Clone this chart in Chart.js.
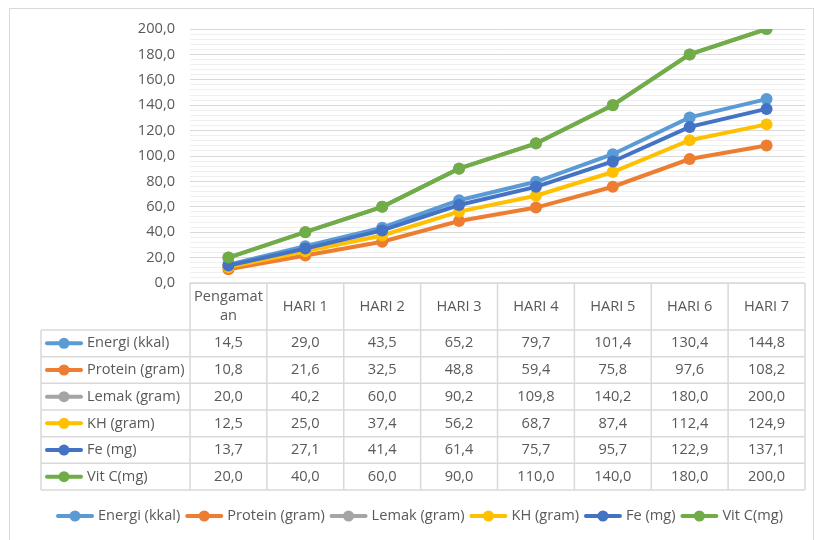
<!DOCTYPE html>
<html>
<head>
<meta charset="utf-8">
<script src="https://cdn.jsdelivr.net/npm/chart.js@4.4.1/dist/chart.umd.min.js"></script>
<style>
  html, body { margin: 0; padding: 0; background: #fff; }
  #wrap { width: 814px; height: 540px; position: relative; }
</style>
</head>
<body>
<div id="wrap"><canvas id="canvas"></canvas></div>
<script>
  // data
  const labels = ['Pengamatan', 'HARI 1', 'HARI 2', 'HARI 3', 'HARI 4', 'HARI 5', 'HARI 6', 'HARI 7'];
  const seriesNames = ['Energi (kkal)', 'Protein (gram)', 'Lemak (gram)', 'KH (gram)', 'Fe (mg)', 'Vit C(mg)'];
  const energi  = [14.5, 29.0, 43.5, 65.2, 79.7, 101.4, 130.4, 144.8];
  const protein = [10.8, 21.6, 32.5, 48.8, 59.4, 75.8, 97.6, 108.2];
  const lemak   = [20.0, 40.2, 60.0, 90.2, 109.8, 140.2, 180.0, 200.0];
  const kh      = [12.5, 25.0, 37.4, 56.2, 68.7, 87.4, 112.4, 124.9];
  const fe      = [13.7, 27.1, 41.4, 61.4, 75.7, 95.7, 122.9, 137.1];
  const vitC    = [20.0, 40.0, 60.0, 90.0, 110.0, 140.0, 180.0, 200.0];
  const seriesValues = [energi, protein, lemak, kh, fe, vitC];
  const colors = ['#5B9BD5', '#ED7D31', '#A5A5A5', '#FFC000', '#4472C4', '#70AD47'];

  const FONT = '"Open Sans", "Noto Sans", sans-serif';
  const TXT = '#595959';
  const LINE = '#d9d9d9';

  function fmt(v) { return v.toFixed(1).replace('.', ','); }

  const ctx = document.getElementById('canvas').getContext('2d');

  // marker like excel: short line with a dot on it
  function drawMarker(c, x, y, color) {
    c.save();
    c.strokeStyle = color;
    c.lineWidth = 4;
    c.lineCap = 'round';
    c.beginPath();
    c.moveTo(x + 2, y);
    c.lineTo(x + 36, y);
    c.stroke();
    c.fillStyle = color;
    c.beginPath();
    c.arc(x + 19, y, 5.5, 0, Math.PI * 2);
    c.fill();
    c.restore();
  }

  function wrapText(c, text, maxW) {
    if (c.measureText(text).width <= maxW) return [text];
    let lines = [], cur = '';
    for (const ch of text) {
      if (c.measureText(cur + ch).width > maxW && cur) {
        lines.push(cur);
        cur = ch;
      } else cur += ch;
    }
    lines.push(cur);
    return lines;
  }

  const framePlugin = {
    id: 'frame',
    beforeDraw(chart) {
      const c = chart.ctx;
      c.save();
      c.fillStyle = '#fff';
      c.fillRect(0, 0, chart.width, chart.height);
      c.strokeStyle = LINE;
      c.lineWidth = 1;
      c.strokeRect(9.5, 8.5, 804, 540);
      c.restore();
    }
  };

  const tablePlugin = {
    id: 'dataTable',
    afterDraw(chart) {
      const c = chart.ctx;
      const x = chart.scales.x;
      const left = x.left, right = x.right;
      const colW = (right - left) / labels.length;
      const top = chart.chartArea.bottom;
      const headBottom = 330;
      const rowH = 26.67;
      const nRows = seriesNames.length;
      const bottom = headBottom + rowH * nRows;
      const labLeft = 41;

      c.save();
      c.strokeStyle = LINE;
      c.lineWidth = 1.5;
      // horizontal lines
      c.beginPath();
      c.moveTo(left, top); c.lineTo(right, top);
      c.moveTo(labLeft, headBottom); c.lineTo(right, headBottom);
      for (let r = 1; r <= nRows; r++) {
        const y = headBottom + r * rowH;
        c.moveTo(labLeft, y); c.lineTo(right, y);
      }
      // vertical lines
      c.moveTo(labLeft, headBottom); c.lineTo(labLeft, bottom);
      for (let i = 0; i <= labels.length; i++) {
        const xx = left + i * colW;
        c.moveTo(xx, top); c.lineTo(xx, bottom);
      }
      c.stroke();

      c.fillStyle = TXT;
      c.font = '14.6px ' + FONT;
      c.textAlign = 'center';
      c.textBaseline = 'middle';
      // header
      labels.forEach((lab, i) => {
        const cx = x.getPixelForValue(i);
        const lines = wrapText(c, lab, colW - 6);
        const lh = 19;
        const y0 = (top + headBottom) / 2 - (lines.length - 1) * lh / 2;
        lines.forEach((ln, k) => c.fillText(ln, cx, y0 + k * lh));
      });
      // rows
      seriesNames.forEach((name, r) => {
        const cy = headBottom + r * rowH + rowH / 2;
        drawMarker(c, 45, cy, colors[r]);
        c.fillStyle = TXT;
        c.textAlign = 'left';
        c.fillText(name, 87, cy);
        c.textAlign = 'center';
        seriesValues[r].forEach((v, i) => {
          c.fillText(fmt(v), x.getPixelForValue(i), cy);
        });
      });

      // legend under the table
      const ly = 516;
      const widths = seriesNames.map(n => 38 + 4 + c.measureText(n).width);
      const startX = 56, endX = 783;
      const gap = (endX - startX - widths.reduce((a, b) => a + b, 0)) / (seriesNames.length - 1);
      let lx = startX;
      seriesNames.forEach((name, i) => {
        drawMarker(c, lx, ly, colors[i]);
        c.fillStyle = TXT;
        c.textAlign = 'left';
        c.fillText(name, lx + 42, ly);
        lx += widths[i] + gap;
      });
      c.restore();
    }
  };

  const datasets = seriesNames.map((name, i) => ({
    label: name,
    data: seriesValues[i],
    borderColor: colors[i],
    backgroundColor: colors[i],
    borderWidth: 4,
    pointRadius: 6,
    pointHoverRadius: 6,
    pointBorderWidth: 0,
    tension: 0,
    order: seriesNames.length - i,
  }));

  const options = {
    responsive: true,
    maintainAspectRatio: false,
    animation: false,
    layout: { padding: { top: 29, right: 9, bottom: 257, left: 0 } },
    plugins: {
      legend: { display: false },
      tooltip: { enabled: false },
    },
    scales: {
      x: {
        type: 'category',
        display: false,
        offset: true,
      },
      y: {
        min: 0,
        max: 200,
        afterFit(scale) { scale.width = 190; },
        border: { display: false },
        grid: {
          drawTicks: false,
          lineWidth: 1,
          color: (c) => (c.tick && c.tick.value % 20 === 0) ? '#d9d9d9' : '#efefef',
        },
        ticks: {
          stepSize: 4,
          autoSkip: false,
          padding: 15,
          color: TXT,
          font: { family: FONT, size: 14.6 },
          callback: (v) => (v % 20 === 0 ? fmt(v) : ''),
        },
      },
    },
  };

  const chart = new Chart(ctx, {
    type: 'line',
    data: { labels: labels, datasets: datasets },
    options: options,
    plugins: [framePlugin, tablePlugin],
  });
</script>
</body>
</html>
